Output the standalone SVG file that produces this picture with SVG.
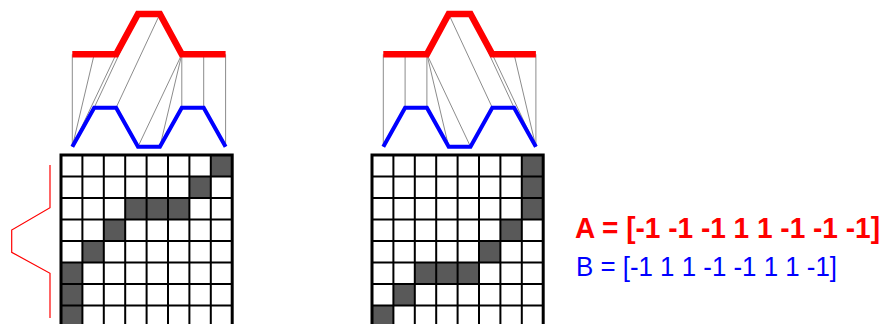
<svg xmlns="http://www.w3.org/2000/svg" width="887" height="324" viewBox="0 0 887 324">
<style>
.red{fill:none;stroke:#ff0000;stroke-width:6.5}
.blue{fill:none;stroke:#0000ff;stroke-width:4}
.link{stroke:#8c8c8c;stroke-width:1}
.cell{fill:#595959}
.grid{fill:none;stroke:#000;stroke-width:2}
.frame{fill:none;stroke:#000;stroke-width:3}
.brace{fill:none;stroke:#ff0000;stroke-width:1.2}
</style>
<rect width="887" height="324" fill="#fff"/>
<g id="left-warp">
  <g id="left-links">
    <line class="link" x1="72.3" y1="54.3" x2="72.3" y2="146.7"/>
    <line class="link" x1="94.2" y1="54.3" x2="72.3" y2="146.7"/>
    <line class="link" x1="116.1" y1="54.3" x2="72.3" y2="146.7"/>
    <line class="link" x1="138" y1="14" x2="94.2" y2="107.7"/>
    <line class="link" x1="159.9" y1="14" x2="116.1" y2="107.7"/>
    <line class="link" x1="181.8" y1="54.3" x2="138" y2="146.7"/>
    <line class="link" x1="181.8" y1="54.3" x2="159.9" y2="146.7"/>
    <line class="link" x1="181.8" y1="54.3" x2="181.8" y2="107.7"/>
    <line class="link" x1="203.7" y1="54.3" x2="203.7" y2="107.7"/>
    <line class="link" x1="225.6" y1="54.3" x2="225.6" y2="146.7"/>
  </g>
  <polyline id="left-A" class="red" points="72.3,54.3 94.2,54.3 116.1,54.3 138,14 159.9,14 181.8,54.3 203.7,54.3 225.6,54.3"/>
  <polyline id="left-B" class="blue" points="72.3,146.7 94.2,107.7 116.1,107.7 138,146.7 159.9,146.7 181.8,107.7 203.7,107.7 225.6,146.7"/>
</g>
<g id="right-warp">
  <g id="right-links">
    <line class="link" x1="383.3" y1="54.3" x2="383.3" y2="146.7"/>
    <line class="link" x1="405.1" y1="54.3" x2="405.1" y2="107.7"/>
    <line class="link" x1="426.9" y1="54.3" x2="426.9" y2="107.7"/>
    <line class="link" x1="426.9" y1="54.3" x2="448.7" y2="146.7"/>
    <line class="link" x1="426.9" y1="54.3" x2="470.5" y2="146.7"/>
    <line class="link" x1="448.7" y1="14" x2="492.3" y2="107.7"/>
    <line class="link" x1="470.5" y1="14" x2="514.1" y2="107.7"/>
    <line class="link" x1="492.3" y1="54.3" x2="535.9" y2="146.7"/>
    <line class="link" x1="514.1" y1="54.3" x2="535.9" y2="146.7"/>
    <line class="link" x1="535.9" y1="54.3" x2="535.9" y2="146.7"/>
  </g>
  <polyline id="right-A" class="red" points="383.3,54.3 405.1,54.3 426.9,54.3 448.7,14 470.5,14 492.3,54.3 514.1,54.3 535.9,54.3"/>
  <polyline id="right-B" class="blue" points="383.3,146.7 405.1,107.7 426.9,107.7 448.7,146.7 470.5,146.7 492.3,107.7 514.1,107.7 535.9,146.7"/>
</g>
<g id="left-grid">
  <rect class="cell" x="210.8" y="155" width="21.4" height="21.5"/>
  <rect class="cell" x="189.4" y="176.5" width="21.4" height="21.5"/>
  <rect class="cell" x="125.2" y="198" width="64.2" height="21.5"/>
  <rect class="cell" x="103.8" y="219.5" width="21.4" height="21.5"/>
  <rect class="cell" x="82.4" y="241" width="21.4" height="21.5"/>
  <rect class="cell" x="61" y="262.5" width="21.4" height="64.5"/>
  <path class="grid" d="M82.4 155V327M103.8 155V327M125.2 155V327M146.6 155V327M168 155V327M189.4 155V327M210.8 155V327M61 176.5H232.2M61 198H232.2M61 219.5H232.2M61 241H232.2M61 262.5H232.2M61 284H232.2M61 305.5H232.2"/>
  <rect class="frame" x="61" y="155" width="171.2" height="172"/>
</g>
<g id="right-grid">
  <rect class="cell" x="521.8" y="155" width="21.4" height="64.5"/>
  <rect class="cell" x="500.4" y="219.5" width="21.4" height="21.5"/>
  <rect class="cell" x="479" y="241" width="21.4" height="21.5"/>
  <rect class="cell" x="414.8" y="262.5" width="64.2" height="21.5"/>
  <rect class="cell" x="393.4" y="284" width="21.4" height="21.5"/>
  <rect class="cell" x="372" y="305.5" width="21.4" height="21.5"/>
  <path class="grid" d="M393.4 155V327M414.8 155V327M436.2 155V327M457.6 155V327M479 155V327M500.4 155V327M521.8 155V327M372 176.5H543.2M372 198H543.2M372 219.5H543.2M372 241H543.2M372 262.5H543.2M372 284H543.2M372 305.5H543.2"/>
  <rect class="frame" x="372" y="155" width="171.2" height="172"/>
</g>
<g id="brace">
  <polyline class="brace" points="50,165 50,207.7 11.7,230 11.7,252.3 50,273.3 50,318"/>
</g>
<g id="labels">
  <text x="575" y="238" font-family="Liberation Sans, Arial, sans-serif" font-size="29" font-weight="bold" fill="#ff0000" textLength="305" lengthAdjust="spacingAndGlyphs">A = [-1 -1 -1 1 1 -1 -1 -1]</text>
  <text x="576" y="276" font-family="Liberation Sans, Arial, sans-serif" font-size="28" fill="#0000ff" textLength="261" lengthAdjust="spacingAndGlyphs">B = [-1 1 1 -1 -1 1 1 -1]</text>
</g>
</svg>
